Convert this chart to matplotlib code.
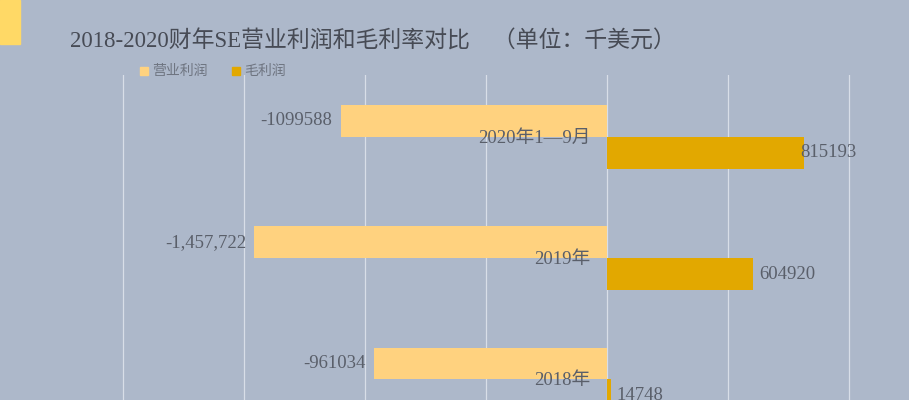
import numpy as np
import matplotlib
matplotlib.use("Agg")
import matplotlib.pyplot as plt
from matplotlib.patches import Rectangle

categories = ["2020年1—9月", "2019年", "2018年"]
op_profit = [-1099588, -1457722, -961034]
gross_profit = [815193, 604920, 14748]
op_labels = ["-1099588", "-1,457,722", "-961034"]
gross_labels = ["815193", "604920", "14748"]
series_names = ["营业利润", "毛利润"]
title = "2018-2020财年SE营业利润和毛利率对比　（单位：千美元）"

bg = "#ADB8CA"
c_light = "#FFD27F"
c_dark = "#E2A800"
txt = "#5A5F6A"
fam = ["Liberation Serif", "Noto Sans CJK SC", "DejaVu Sans"]

W, H = 909, 400
fig = plt.figure(figsize=(W / 100, H / 100), dpi=100, facecolor=bg)

# plot area: top at y=75 px, runs past the bottom edge
ax = fig.add_axes([0, 0, 1, 1 - 75 / H])
ax.set_facecolor(bg)
px_per_unit = 121 / 500000
ax.set_xlim(-607 / px_per_unit, (W - 607) / px_per_unit)
ax.set_ylim(2.17, -0.51)
ax.set_xticks(np.arange(-2000000, 1000001, 500000))
ax.grid(axis="x", color="#D8DEE8", lw=0.9)
ax.set_axisbelow(True)
ax.tick_params(length=0, labelbottom=False, labelleft=False)
for s in ax.spines.values():
    s.set_visible(False)

y = np.arange(len(categories))
h = 0.262
ax.barh(y - h / 2, op_profit, height=h, color=c_light)
ax.barh(y + h / 2, gross_profit, height=h, color=c_dark)

fs = 13.5
for i, cat in enumerate(categories):
    ax.annotate(cat, (0, y[i]), xytext=(-12, -1), textcoords="offset points",
                ha="right", va="center", fontsize=fs, color=txt, family=fam)
    ax.annotate(op_labels[i], (op_profit[i], y[i] - h / 2), xytext=(-6, 0),
                textcoords="offset points", ha="right", va="center",
                fontsize=fs, color=txt, family=fam)
    ax.annotate(gross_labels[i], (gross_profit[i], y[i] + h / 2), xytext=(-3 if i == 0 else 4, 0),
                textcoords="offset points", ha="left", va="center",
                fontsize=fs, color=txt, family=fam)

# decorative block top-left
fig.patches.append(Rectangle((0, 1 - 44 / H), 20 / W, 44 / H, transform=fig.transFigure,
                             color="#FFD966", zorder=5))

fig.text(70 / W, 1 - 42 / H, title, ha="left", va="center", fontsize=16.5,
         color="#474B55", family=fam)

# legend
for x0, name, col in [(140, series_names[0], c_light), (232, series_names[1], c_dark)]:
    fig.patches.append(Rectangle((x0 / W, 1 - 75 / H), 8 / W, 8 / H,
                                 transform=fig.transFigure, color=col))
    fig.text((x0 + 12) / W, 1 - 71 / H, name, ha="left", va="center",
             fontsize=10, color="#6E7480", family=["Noto Sans CJK SC"])

fig.savefig("out.png", dpi=100, facecolor=bg)
